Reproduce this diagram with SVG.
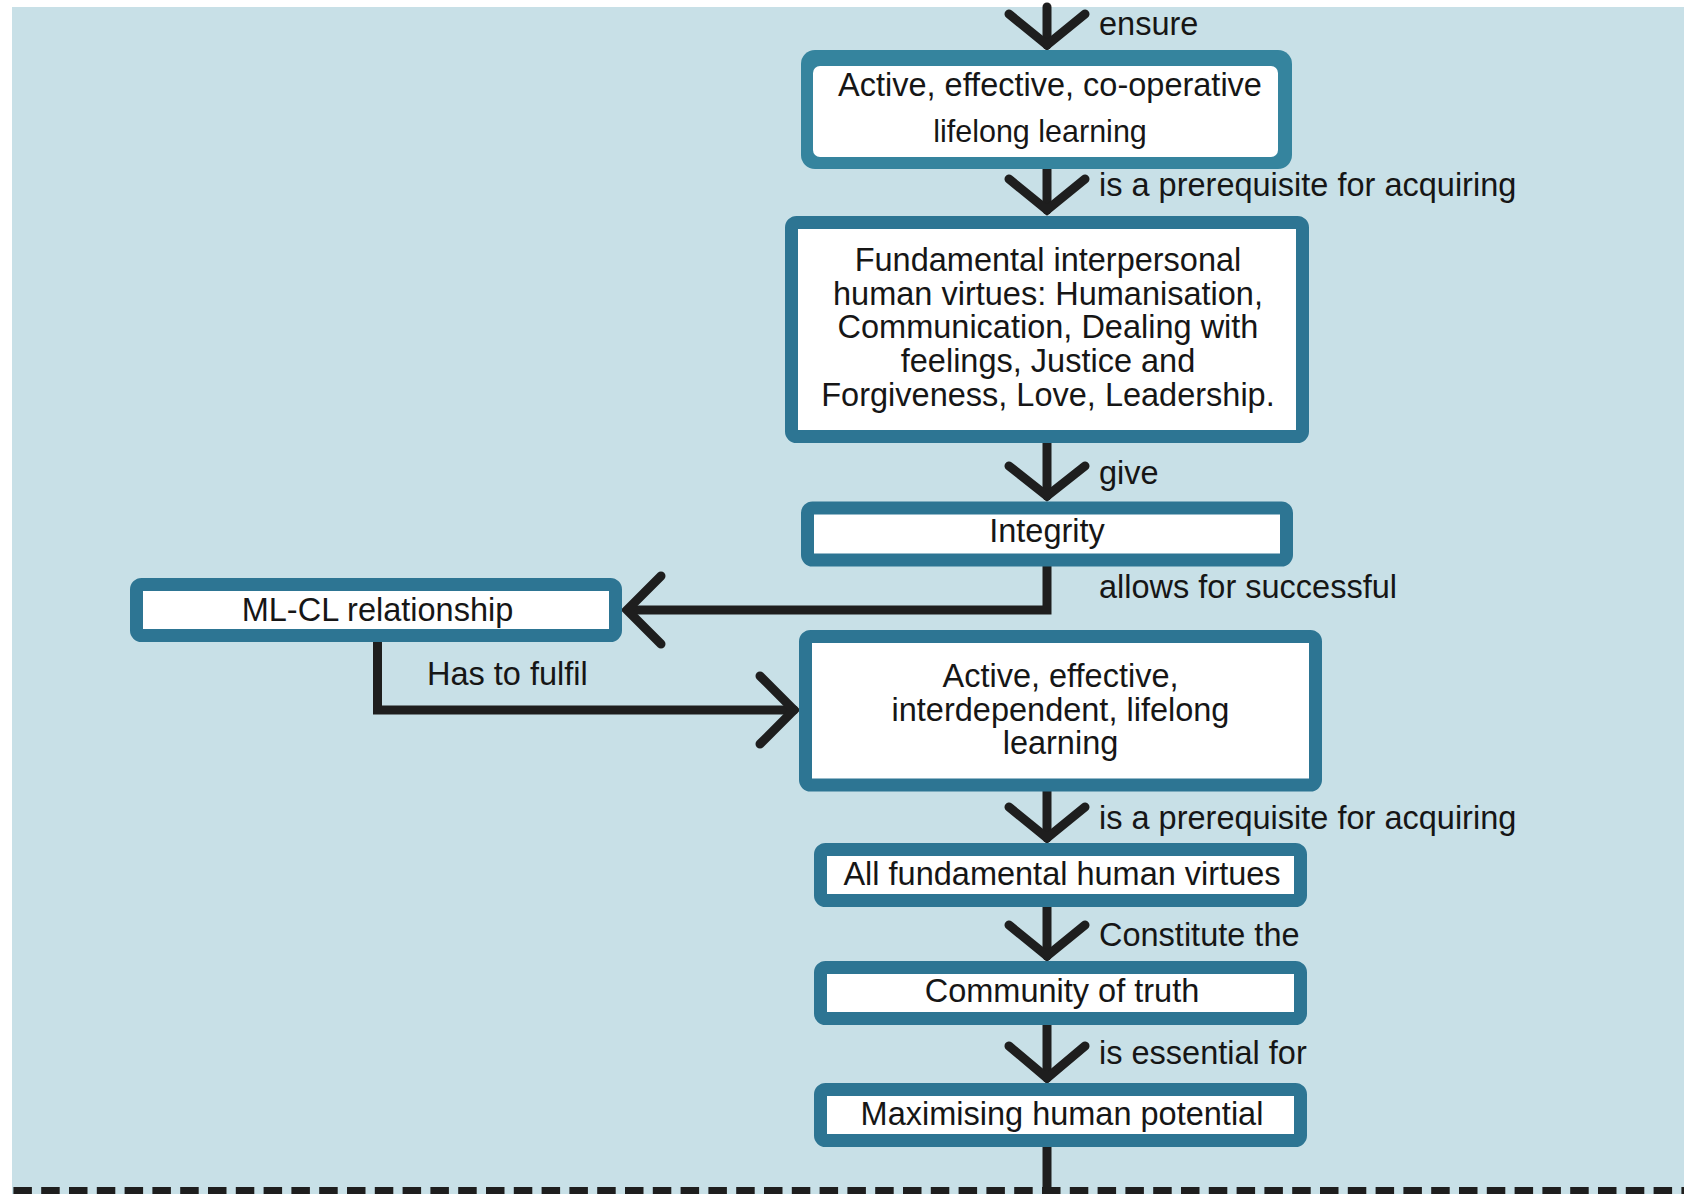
<svg xmlns="http://www.w3.org/2000/svg" width="1684" height="1194" viewBox="0 0 1684 1194">
  <style>
    .box { fill: #ffffff; stroke: #2d7593; stroke-width: 13; }
    .txt { font-family: "Liberation Sans", Arial, sans-serif; font-size: 32.5px; fill: #161616; text-anchor: middle; }
    .lbl { font-family: "Liberation Sans", Arial, sans-serif; font-size: 32.5px; fill: #161616; }
    .wire { fill: none; stroke: #1e1e1e; stroke-width: 9; stroke-linecap: round; stroke-linejoin: miter; }
  </style>

  <!-- page -->
  <rect x="0" y="0" width="1684" height="1194" fill="#ffffff"/>
  <rect x="12" y="7" width="1672" height="1187" fill="#c8e0e7"/>

  <!-- connectors -->
  <g id="connectors">
    <!-- incoming from above -->
    <path class="wire" d="M1047 7 V45"/>
    <path class="wire" d="M1009 14 L1047 45 L1085 14"/>
    <text class="lbl" x="1099" y="35">ensure</text>

    <path class="wire" d="M1047 169 V210"/>
    <path class="wire" d="M1009 179 L1047 210 L1085 179"/>
    <text class="lbl" x="1099" y="196">is a prerequisite for acquiring</text>

    <path class="wire" d="M1047 443 V496"/>
    <path class="wire" d="M1009 466 L1047 496 L1085 466"/>
    <text class="lbl" x="1099" y="484">give</text>

    <!-- Integrity to ML-CL relationship -->
    <path class="wire" d="M1047 566 V610 H628"/>
    <path class="wire" d="M661 576 L627 610 L661 644"/>
    <text class="lbl" x="1099" y="598">allows for successful</text>

    <!-- ML-CL relationship to interdependent learning -->
    <path class="wire" d="M377.5 642 V710 H794"/>
    <path class="wire" d="M760 676 L794 710 L760 744"/>
    <text class="lbl" x="427" y="685">Has to fulfil</text>

    <path class="wire" d="M1047 791 V838"/>
    <path class="wire" d="M1009 807 L1047 838 L1085 807"/>
    <text class="lbl" x="1099" y="829">is a prerequisite for acquiring</text>

    <path class="wire" d="M1047 907 V956"/>
    <path class="wire" d="M1009 925 L1047 956 L1085 925"/>
    <text class="lbl" x="1099" y="946">Constitute the</text>

    <path class="wire" d="M1047 1025 V1078"/>
    <path class="wire" d="M1009 1046 L1047 1078 L1085 1046"/>
    <text class="lbl" x="1099" y="1064">is essential for</text>

    <!-- continues below -->
    <path class="wire" d="M1047 1147 V1194" stroke-linecap="butt"/>

    <!-- section divider -->
    <line x1="13.4" y1="1191.5" x2="1684" y2="1191.5" stroke="#1e1e1e" stroke-width="9" stroke-dasharray="18.5 9.3"/>
  </g>

  <!-- nodes -->
  <g id="node-cooperative">
    <rect x="801" y="50" width="491" height="119" rx="14" fill="#35849e"/>
    <rect x="813" y="66" width="465" height="91" rx="7" fill="#ffffff"/>
    <text class="txt" x="1050" y="96">Active, effective, co-operative</text>
    <text class="txt" x="1040" y="142" style="font-size:30.5px">lifelong learning</text>
  </g>

  <g id="node-virtues">
    <rect class="box" x="791.5" y="222.5" width="511" height="214" rx="5"/>
    <text class="txt" x="1048" y="271">Fundamental interpersonal</text>
    <text class="txt" x="1048" y="304.5">human virtues: Humanisation,</text>
    <text class="txt" x="1048" y="338">Communication, Dealing with</text>
    <text class="txt" x="1048" y="372">feelings, Justice and</text>
    <text class="txt" x="1048" y="405.5">Forgiveness, Love, Leadership.</text>
  </g>

  <g id="node-integrity">
    <rect class="box" x="807.5" y="508" width="479" height="52" rx="5"/>
    <text class="txt" x="1047" y="542">Integrity</text>
  </g>

  <g id="node-mlcl">
    <rect class="box" x="136.5" y="584.5" width="479" height="51" rx="5"/>
    <text class="txt" x="377.5" y="621">ML-CL relationship</text>
  </g>

  <g id="node-interdependent">
    <rect class="box" x="805.5" y="636.5" width="510" height="148.5" rx="5"/>
    <text class="txt" x="1060.5" y="687">Active, effective,</text>
    <text class="txt" x="1060.5" y="720.5">interdependent, lifelong</text>
    <text class="txt" x="1060.5" y="754">learning</text>
  </g>

  <g id="node-all-virtues">
    <rect class="box" x="820.5" y="849.5" width="480" height="51" rx="5"/>
    <text class="txt" x="1062" y="885">All fundamental human virtues</text>
  </g>

  <g id="node-community">
    <rect class="box" x="820.5" y="967.5" width="480" height="51" rx="5"/>
    <text class="txt" x="1062" y="1002">Community of truth</text>
  </g>

  <g id="node-potential">
    <rect class="box" x="820.5" y="1089.5" width="480" height="51" rx="5"/>
    <text class="txt" x="1062" y="1125">Maximising human potential</text>
  </g>
</svg>
